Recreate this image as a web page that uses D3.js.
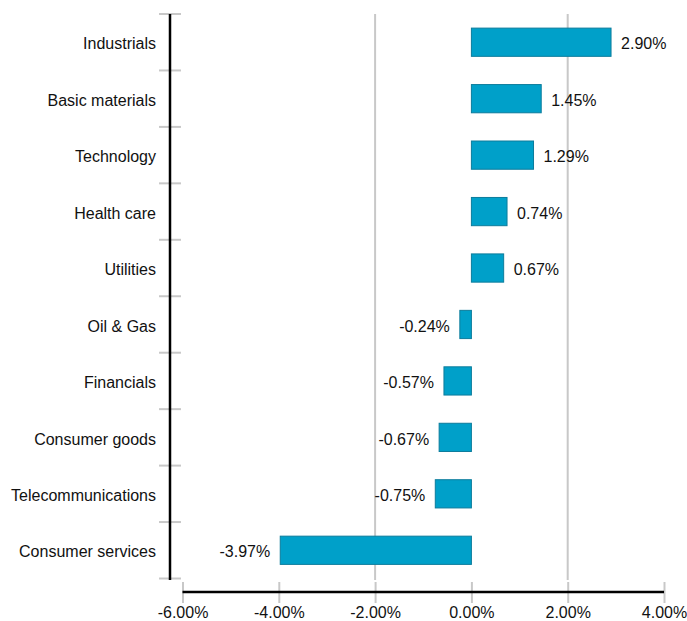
<!DOCTYPE html>
<html>
<head>
<meta charset="utf-8">
<script src="https://cdn.jsdelivr.net/npm/d3@7"></script>
<style>
  body { margin: 0; background: #fff; }
  text { font-family: "Liberation Sans", Arial, sans-serif; }
</style>
</head>
<body>
<div id="container"></div>
<script>
/* DATA */
const sectors = ["Industrials", "Basic materials", "Technology", "Health care", "Utilities",
  "Oil & Gas", "Financials", "Consumer goods", "Telecommunications", "Consumer services"];
const returns = [2.90, 1.45, 1.29, 0.74, 0.67, -0.24, -0.57, -0.67, -0.75, -3.97];
const xTicks = [-6, -4, -2, 0, 2, 4];
const gridValues = [-2, 2];

const data = sectors.map((s, i) => ({sector: s, value: returns[i]}));

const width = 687, height = 621;
const fmt = v => v.toFixed(2) + "%";   // plain hyphen for negatives, like the original

const svg = d3.select("#container")
  .append("svg")
  .attr("width", width)
  .attr("height", height);

/* SCALES */
const xScale = d3.scaleLinear()
  .domain([-6, 4])
  .range([182.5, 664]);

const yScale = d3.scaleBand()
  .domain(sectors)
  .range([14, 578.5])
  .paddingInner(0.5)
  .paddingOuter(0.25);

// grid lines
svg.selectAll("line.grid")
  .data(gridValues)
  .join("line")
  .attr("class", "grid")
  .attr("x1", d => xScale(d)).attr("x2", d => xScale(d))
  .attr("y1", 14).attr("y2", 580)
  .attr("stroke", "#c8c8c8")
  .attr("stroke-width", 2);

// x axis
const xAxis = svg.append("g")
  .attr("transform", "translate(0,592)")
  .call(d3.axisBottom(xScale)
    .tickValues(xTicks)
    .tickSize(0)
    .tickPadding(15)
    .tickFormat(fmt));
xAxis.select(".domain").remove();
xAxis.selectAll(".tick line").remove();
xAxis.selectAll(".tick")
  .append("line")
  .attr("y1", -10).attr("y2", 11)
  .attr("stroke", "#c8c8c8")
  .attr("stroke-width", 2);
xAxis.append("line")
  .attr("x1", xScale(-6)).attr("x2", xScale(4))
  .attr("stroke", "#000")
  .attr("stroke-width", 2.5);
xAxis.selectAll("text")
  .attr("fill", "#111")
  .style("font-size", "16px");

// y axis
const yAxis = svg.append("g")
  .attr("transform", "translate(170,0)");
const bounds = sectors.map(s => yScale(s) - yScale.step() * yScale.paddingInner() / 2)
  .concat([yScale(sectors[sectors.length - 1]) + yScale.bandwidth() + yScale.step() * yScale.paddingInner() / 2]);
yAxis.selectAll("line.ytick")
  .data(bounds)
  .join("line")
  .attr("class", "ytick")
  .attr("x1", -11).attr("x2", 11)
  .attr("y1", d => d).attr("y2", d => d)
  .attr("stroke", "#c8c8c8")
  .attr("stroke-width", 2);
yAxis.append("line")
  .attr("x1", 0).attr("x2", 0)
  .attr("y1", 14).attr("y2", 580)
  .attr("stroke", "#000")
  .attr("stroke-width", 2.5);
yAxis.selectAll("text.cat")
  .data(sectors)
  .join("text")
  .attr("class", "cat")
  .attr("x", -14)
  .attr("y", d => yScale(d) + yScale.bandwidth() / 2)
  .attr("dy", "0.45em")
  .attr("text-anchor", "end")
  .style("font-size", "16px")
  .attr("fill", "#111")
  .text(d => d);

// bars
svg.selectAll("rect.bar")
  .data(data)
  .join("rect")
  .attr("class", "bar")
  .attr("x", d => xScale(Math.min(0, d.value)))
  .attr("width", d => Math.abs(xScale(d.value) - xScale(0)))
  .attr("y", d => yScale(d.sector))
  .attr("height", yScale.bandwidth())
  .attr("fill", "#00a0c9")
  .attr("stroke", "#0c7c9c")
  .attr("stroke-width", 1);

// value labels
svg.selectAll("text.val")
  .data(data)
  .join("text")
  .attr("class", "val")
  .attr("x", d => d.value >= 0 ? xScale(d.value) + 10 : xScale(d.value) - 10)
  .attr("y", d => yScale(d.sector) + yScale.bandwidth() / 2)
  .attr("dy", "0.45em")
  .attr("text-anchor", d => d.value >= 0 ? "start" : "end")
  .style("font-size", "16px")
  .attr("fill", "#111")
  .text(d => fmt(d.value));
</script>
</body>
</html>
